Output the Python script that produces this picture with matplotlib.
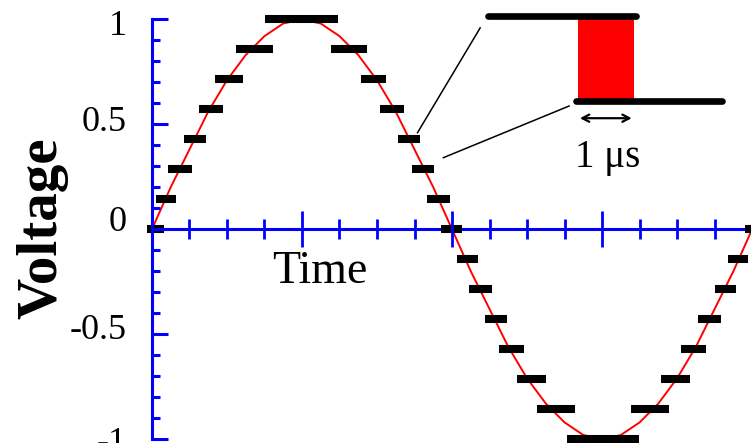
import numpy as np
import matplotlib
matplotlib.use("Agg")
import matplotlib.pyplot as plt
from matplotlib.patches import Rectangle, FancyArrowPatch
from matplotlib.ticker import FixedLocator, FixedFormatter, NullFormatter
from matplotlib.transforms import ScaledTranslation

plt.rcParams['font.family'] = ['Liberation Serif', 'DejaVu Serif']
plt.rcParams['axes.unicode_minus'] = False

# Analog input: one period spans 16 time units, sampled every half unit
signal_t = np.arange(0, 16.01, 0.5)
signal_v = [0.00, 0.20, 0.38, 0.56, 0.71, 0.83, 0.92, 0.98, 1.00,
            0.98, 0.92, 0.83, 0.71, 0.56, 0.38, 0.20, 0.00,
            -0.20, -0.38, -0.56, -0.71, -0.83, -0.92, -0.98, -1.00,
            -0.98, -0.92, -0.83, -0.71, -0.56, -0.38, -0.20, 0.00]

# Quantised output: level (in sevenths of full scale) and the time span of each plateau
step_level = [0, 1, 2, 3, 4, 5, 6, 7, 6, 5, 4, 3, 2, 1, 0,
              -1, -2, -3, -4, -5, -6, -7, -6, -5, -4, -3, -2, -1, 0]
step_start = [-0.14, 0.11, 0.44, 0.86, 1.26, 1.69, 2.23, 3.02, 4.77, 5.57, 6.08,
              6.55, 6.94, 7.34, 7.70, 8.13, 8.45, 8.88, 9.25, 9.73, 10.26, 11.06,
              12.77, 13.57, 14.10, 14.57, 15.00, 15.37, 15.81]
step_end = [0.32, 0.64, 1.08, 1.43, 1.90, 2.44, 3.24, 4.96, 5.74, 6.25, 6.72,
            7.15, 7.51, 7.95, 8.26, 8.68, 9.06, 9.46, 9.92, 10.50, 11.29, 12.99,
            13.78, 14.35, 14.76, 15.17, 15.57, 15.90, 16.30]
n_levels = 7

ytick_values = [-1, -0.5, 0, 0.5, 1]
ytick_labels = ["-1", "-0.5", "0", "0.5", "1"]
# small vertical nudges (points, upward) for the hand-set axis numbers
ytick_nudge = [0.0, 5.5, 7.5, 4.3, -2.5]
xtick_major = [0, 4, 8, 12, 16]

BLUE = "#0000ff"
RED = "#ff0000"

fig = plt.figure(figsize=(7.51, 4.43), dpi=100)
ax = fig.add_axes([0, 0, 1, 1])
ax.set_xlim(-4.05, 15.97)
ax.set_ylim(-1.018, 1.092)

# axes crossing at the origin
for side in ("top", "right"):
    ax.spines[side].set_visible(False)
ax.spines["left"].set_position(("data", 0))
ax.spines["bottom"].set_position(("data", 0))
ax.spines["left"].set_bounds(-1, 1)
ax.spines["bottom"].set_bounds(0, 16)
for side in ("left", "bottom"):
    ax.spines[side].set_color(BLUE)
    ax.spines[side].set_linewidth(2.2)
    ax.spines[side].set_zorder(2.5)

ax.yaxis.set_major_locator(FixedLocator(ytick_values))
ax.yaxis.set_major_formatter(FixedFormatter(ytick_labels))
ax.yaxis.set_minor_locator(FixedLocator(np.round(np.arange(-1, 1.01, 0.1), 2)))
ax.tick_params(axis="y", which="major", direction="in", length=11.5, width=2.2,
               color=BLUE, labelsize=26, pad=18, labelcolor="black")
ax.tick_params(axis="y", which="minor", direction="in", length=5.8, width=2.2,
               color=BLUE)

ax.xaxis.set_major_locator(FixedLocator(xtick_major))
ax.xaxis.set_major_formatter(NullFormatter())
ax.xaxis.set_minor_locator(FixedLocator(np.arange(0, 17, 1)))
ax.tick_params(axis="x", which="major", direction="inout", length=26, width=2.0,
               color=BLUE, labelbottom=False)
ax.tick_params(axis="x", which="minor", direction="inout", length=15, width=2.0,
               color=BLUE)
ax.xaxis.set_zorder(3)
ax.yaxis.set_zorder(3)

for tick, dy in zip(ax.yaxis.get_major_ticks(), ytick_nudge):
    lbl = tick.label1
    lbl.set_transform(lbl.get_transform() + ScaledTranslation(0, dy / 72, fig.dpi_scale_trans))

# analog signal and its quantised version
ax.plot(signal_t, signal_v, color=RED, lw=1.4, zorder=2.6)
ax.hlines([lv / n_levels for lv in step_level], step_start, step_end,
          colors="black", lw=5.8, capstyle="butt", zorder=2.7)

ax.set_xlabel("Time", fontsize=33)
ax.xaxis.set_label_coords(4.48, -0.257, transform=ax.transData)
ax.xaxis.label.set_verticalalignment("baseline")

ax.set_ylabel("Voltage", fontsize=41, fontweight="bold")
ax.yaxis.set_label_coords(-2.91, 0.004, transform=ax.transData)
ax.yaxis.label.set_verticalalignment("center")
ax.yaxis.label.set_horizontalalignment("center")

# magnified view of one quantisation step
ax.plot([8.75, 7.08], [0.959, 0.460], color="black", lw=1.1, zorder=4)
ax.plot([11.12, 7.77], [0.587, 0.341], color="black", lw=1.1, zorder=4)
ax.add_patch(Rectangle((11.37, 0.616), 1.47, 0.40, facecolor=RED,
                       edgecolor="none", zorder=4))
ax.plot([8.96, 12.91], [1.016, 1.016], color="black", lw=4.8,
        solid_capstyle="round", zorder=5)
ax.plot([11.31, 15.20], [0.611, 0.611], color="black", lw=4.8,
        solid_capstyle="round", zorder=5)
ax.add_patch(FancyArrowPatch((11.41, 0.529), (12.79, 0.529),
                             arrowstyle="<->,head_length=5,head_width=2.6",
                             color="black", lw=1.6, shrinkA=0, shrinkB=0,
                             mutation_scale=1, zorder=5))
ax.text(12.16, 0.298, "1 μs", fontsize=28, ha="center", va="baseline", zorder=5)

fig.savefig("out.png", dpi=100)
